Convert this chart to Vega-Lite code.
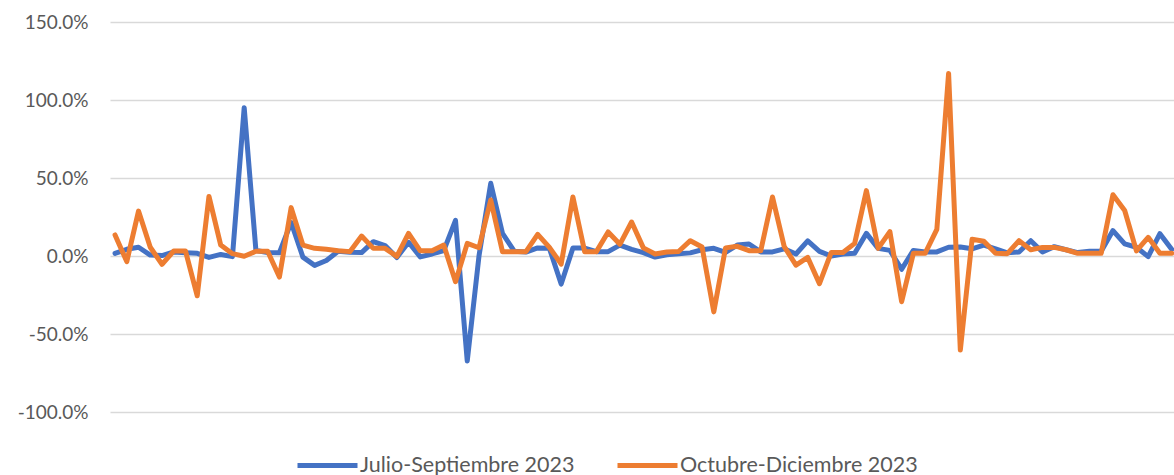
{
  "$schema": "https://vega.github.io/schema/vega-lite/v6.json",
  "width": 1064,
  "height": 390,
  "autosize": {"type": "none"},
  "padding": {"left": 110, "top": 22, "right": 0, "bottom": 63},
  "background": "white",
  "config": {"view": {"stroke": null}},
  "data": {"values": [
    {"i":0,"a":0.017,"b":0.135},{"i":1,"a":0.043,"b":-0.036},{"i":2,"a":0.056,"b":0.288},{"i":3,"a":0.006,"b":0.056},
    {"i":4,"a":0.003,"b":-0.053},{"i":5,"a":0.026,"b":0.032},{"i":6,"a":0.021,"b":0.032},{"i":7,"a":0.017,"b":-0.255},
    {"i":8,"a":-0.009,"b":0.382},{"i":9,"a":0.010,"b":0.070},{"i":10,"a":-0.004,"b":0.015},{"i":11,"a":0.950,"b":-0.002},
    {"i":12,"a":0.035,"b":0.030},{"i":13,"a":0.023,"b":0.030},{"i":14,"a":0.021,"b":-0.135},{"i":15,"a":0.215,"b":0.310},
    {"i":16,"a":-0.007,"b":0.070},{"i":17,"a":-0.060,"b":0.049},{"i":18,"a":-0.029,"b":0.043},{"i":19,"a":0.030,"b":0.034},
    {"i":20,"a":0.024,"b":0.028},{"i":21,"a":0.022,"b":0.128},{"i":22,"a":0.092,"b":0.049},{"i":23,"a":0.067,"b":0.049},
    {"i":24,"a":-0.010,"b":-0.002},{"i":25,"a":0.088,"b":0.145},{"i":26,"a":-0.006,"b":0.033},{"i":27,"a":0.013,"b":0.033},
    {"i":28,"a":0.035,"b":0.070},{"i":29,"a":0.228,"b":-0.165},{"i":30,"a":-0.673,"b":0.081},{"i":31,"a":0.000,"b":0.053},
    {"i":32,"a":0.466,"b":0.359},{"i":33,"a":0.145,"b":0.028},{"i":34,"a":0.031,"b":0.028},{"i":35,"a":0.025,"b":0.028},
    {"i":36,"a":0.052,"b":0.139},{"i":37,"a":0.049,"b":0.055},{"i":38,"a":-0.180,"b":-0.052},{"i":39,"a":0.051,"b":0.378},
    {"i":40,"a":0.051,"b":0.028},{"i":41,"a":0.028,"b":0.028},{"i":42,"a":0.028,"b":0.154},{"i":43,"a":0.070,"b":0.075},
    {"i":44,"a":0.043,"b":0.218},{"i":45,"a":0.022,"b":0.052},{"i":46,"a":-0.007,"b":0.013},{"i":47,"a":0.008,"b":0.026},
    {"i":48,"a":0.015,"b":0.029},{"i":49,"a":0.020,"b":0.098},{"i":50,"a":0.040,"b":0.058},{"i":51,"a":0.049,"b":-0.358},
    {"i":52,"a":0.023,"b":0.052},{"i":53,"a":0.070,"b":0.062},{"i":54,"a":0.077,"b":0.034},{"i":55,"a":0.026,"b":0.034},
    {"i":56,"a":0.026,"b":0.378},{"i":57,"a":0.046,"b":0.060},{"i":58,"a":0.013,"b":-0.058},{"i":59,"a":0.097,"b":-0.009},
    {"i":60,"a":0.030,"b":-0.177},{"i":61,"a":0.000,"b":0.022},{"i":62,"a":0.013,"b":0.022},{"i":63,"a":0.017,"b":0.081},
    {"i":64,"a":0.145,"b":0.419},{"i":65,"a":0.049,"b":0.049},{"i":66,"a":0.036,"b":0.156},{"i":67,"a":-0.085,"b":-0.293},
    {"i":68,"a":0.036,"b":0.017},{"i":69,"a":0.026,"b":0.017},{"i":70,"a":0.026,"b":0.171},{"i":71,"a":0.056,"b":1.170},
    {"i":72,"a":0.058,"b":-0.603},{"i":73,"a":0.046,"b":0.107},{"i":74,"a":0.070,"b":0.095},{"i":75,"a":0.046,"b":0.017},
    {"i":76,"a":0.020,"b":0.015},{"i":77,"a":0.026,"b":0.098},{"i":78,"a":0.098,"b":0.040},{"i":79,"a":0.026,"b":0.055},
    {"i":80,"a":0.060,"b":0.055},{"i":81,"a":0.040,"b":0.040},{"i":82,"a":0.022,"b":0.017},{"i":83,"a":0.030,"b":0.017},
    {"i":84,"a":0.030,"b":0.017},{"i":85,"a":0.163,"b":0.393},{"i":86,"a":0.078,"b":0.292},{"i":87,"a":0.056,"b":0.033},
    {"i":88,"a":-0.004,"b":0.120},{"i":89,"a":0.143,"b":0.017},{"i":90,"a":0.043,"b":0.017}
  ]},
  "transform": [
    {"fold": ["a", "b"], "as": ["k", "v"]},
    {"lookup": "k", "from": {"data": {"values": [{"k": "a", "serie": "Julio-Septiembre 2023"}, {"k": "b", "serie": "Octubre-Diciembre 2023"}]}, "key": "k", "fields": ["serie"]}}
  ],
  "mark": {"type": "line", "strokeWidth": 5, "strokeJoin": "round", "strokeCap": "round", "clip": true},
  "encoding": {
    "x": {"field": "i", "type": "quantitative", "scale": {"domain": [-0.43, 90.2], "nice": false, "zero": false}, "axis": null},
    "y": {"field": "v", "type": "quantitative",
      "scale": {"domain": [-1, 1.5], "nice": false, "zero": false},
      "axis": {"values": [-1, -0.5, 0, 0.5, 1, 1.5], "title": null, "domain": false, "ticks": false,
        "labelExpr": "replace(format(datum.value, '.1%'), '\u2212', '-')",
        "labelFont": "Lato", "labelFontSize": 19, "labelColor": "#595959", "labelPadding": 22,
        "gridColor": "#d9d9d9", "gridWidth": 1.5}},
    "color": {"field": "serie", "type": "nominal",
      "scale": {"domain": ["Julio-Septiembre 2023", "Octubre-Diciembre 2023"], "range": ["#4472C4", "#ED7D31"]},
      "legend": {"title": null, "orient": "none", "direction": "horizontal", "legendX": 185, "legendY": 411,
        "symbolType": "stroke", "symbolSize": 3600, "symbolStrokeWidth": 5, "labelOffset": 0, "labelLimit": 400,
        "labelFont": "Lato", "labelFontSize": 21.5, "labelColor": "#595959", "columnPadding": 32}}
  }
}
